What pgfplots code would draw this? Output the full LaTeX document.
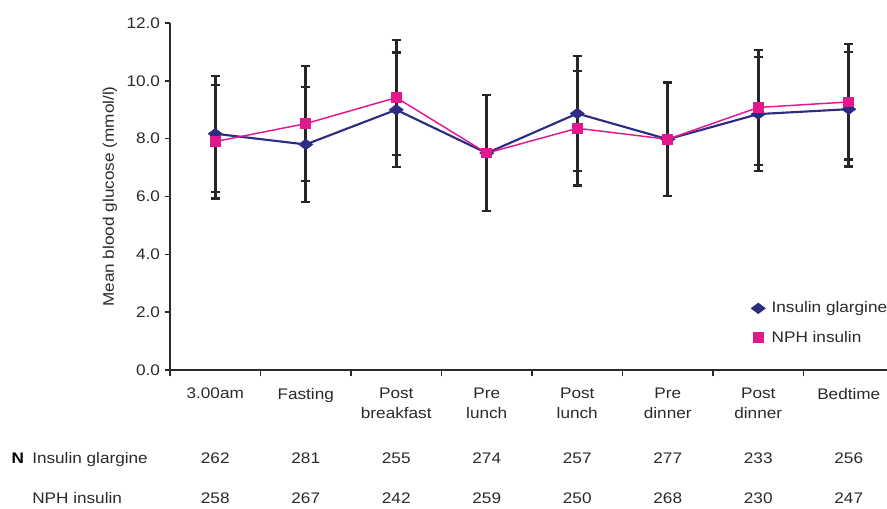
\documentclass[border=0pt]{standalone}
\usepackage{pgfplots}
\pgfplotsset{compat=1.18}
\usepackage{pgfplotstable}
\usepackage{fontspec}
\setmainfont{Liberation Sans}[FakeStretch=1.12]
\definecolor{glar}{HTML}{2D2C82}
\definecolor{nph}{HTML}{E2188C}
\definecolor{txt}{HTML}{2A2A2A}

\pgfplotstableread{
x y e
0 8.17 2.00
1 7.80 1.98
2 9.00 1.98
3 7.50 2.00
4 8.87 1.99
5 7.98 1.96
6 8.85 1.98
7 9.02 1.98
}\glartab

\pgfplotstableread{
x y e
0 7.90 1.97
1 8.52 1.99
2 9.42 1.99
3 7.50 2.00
4 8.36 1.98
5 7.98 1.97
6 9.08 1.98
7 9.27 1.99
}\nphtab

\newcommand{\lblfont}{\fontsize{11.5}{15}\selectfont}

\begin{document}
\begin{tikzpicture}
\path[use as bounding box] (0pt,0pt) rectangle (665.25pt,-381pt);
\begin{axis}[
  at={(127.5pt,-277.5pt)}, anchor=south west,
  scale only axis, width=543pt, height=260.25pt,
  xmin=-0.5, xmax=7.5, ymin=0, ymax=12,
  axis x line*=bottom, axis y line*=left,
  axis line style={line width=1.1pt, color=txt},
  /pgf/number format/assume math mode=true,
  ytick={0,2,...,12},
  yticklabel style={/pgf/number format/.cd, fixed, fixed zerofill, precision=1},
  xtick={0,...,7},
  xticklabels={3.00am, Fasting, {Post\\breakfast}, {Pre\\lunch}, {Post\\lunch}, {Pre\\dinner}, {Post\\dinner}, Bedtime},
  major x tick style={draw=none},
  minor xtick={-0.5,0.5,...,7.5},
  tick align=outside,
  major tick length=4pt, minor tick length=4.5pt,
  every tick/.style={line width=1.1pt, color=txt},
  ticklabel style={font=\lblfont, color=txt},
  xticklabel style={align=center, anchor=north, yshift=-6pt},
  ylabel={Mean blood glucose (mmol/l)},
  ylabel style={font=\lblfont, color=txt, at={(axis description cs:-0.083,0.5)}, anchor=center},
  clip=false,
  legend cell align=left,
  legend image code/.code={\path (-5.25pt,0pt) (5.25pt,0pt); \draw[#1] plot coordinates {(0pt,0pt)};},
  legend style={draw=none, fill=none, inner sep=0pt, font=\lblfont, text=txt,
    at={(axis description cs:0.801,0.205)}, anchor=north west,
    row sep=8pt, /tikz/every odd column/.append style={column sep=2pt}},
]
\addplot[glar, line width=1.6pt, mark=diamond*, mark size=5.25pt, mark options={rotate=90, fill=glar, draw=glar, line width=0.5pt},
  error bars/.cd, y dir=both, y explicit,
  error bar style={line width=1.9pt, black!85},
  error mark options={rotate=90, mark size=3.4pt, line width=1.6pt, black!85}]
  table[x=x, y=y, y error=e] {\glartab};
\addplot[nph, line width=1.1pt, mark=square*, mark size=3.4pt, mark options={fill=nph, draw=nph},
  error bars/.cd, y dir=both, y explicit,
  error bar style={line width=1.9pt, black!85},
  error mark options={rotate=90, mark size=3.4pt, line width=1.6pt, black!85}]
  table[x=x, y=y, y error=e] {\nphtab};
\addlegendimage{only marks, mark=diamond*, mark size=5.25pt, mark options={rotate=90, fill=glar, draw=glar}}
\addlegendentry{Insulin glargine}
\addlegendimage{only marks, mark=square*, mark size=3.4pt, mark options={fill=nph, draw=nph}}
\addlegendentry{NPH insulin}
\end{axis}
\begin{scope}[every node/.style={font=\lblfont, text=txt, inner sep=0pt}]
\node[anchor=base west, font=\lblfont\bfseries, text=black] at (8.6pt,-347.4pt) {N};
\node[anchor=base west] at (24pt,-347.4pt) {Insulin glargine};
\node[anchor=base west] at (24pt,-377.4pt) {NPH insulin};
\foreach \xx/\a/\b in {161.44/262/258, 229.31/281/267, 297.19/255/242, 365.06/274/259, 432.94/257/250, 500.81/277/268, 568.69/233/230, 636.56/256/247} {
  \node[anchor=base] at (\xx pt,-347.4pt) {\a};
  \node[anchor=base] at (\xx pt,-377.4pt) {\b};
}
\end{scope}
\end{tikzpicture}
\end{document}
